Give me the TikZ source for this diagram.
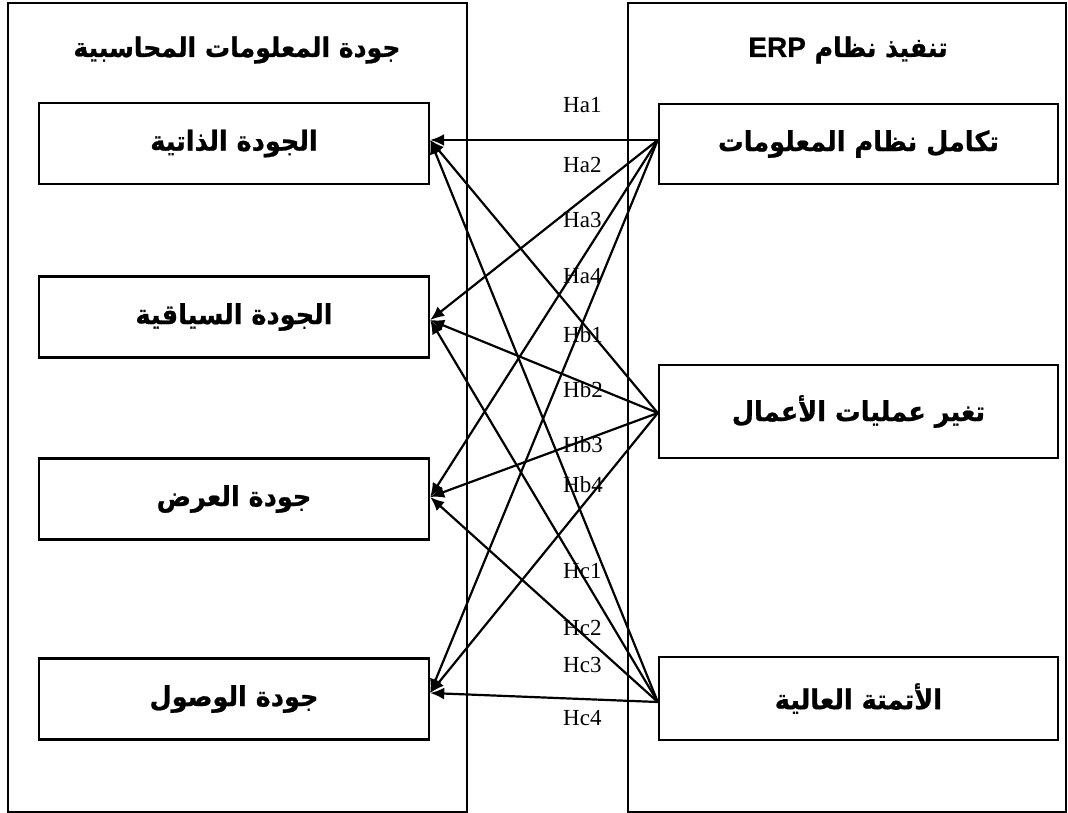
\documentclass[tikz,border=0pt]{standalone}
\usepackage{fontspec}
\setmainfont{Liberation Serif}
\newfontfamily\arabicfont[Script=Arabic, BoldFeatures={FakeBold=0.8, FakeStretch=0.93}]{DejaVu Sans}
\newfontfamily\latinsans[BoldFeatures={FakeBold=0.6}]{Liberation Sans}
\TeXXeTstate=1
\usetikzlibrary{arrows.meta}

\begin{document}
\begin{tikzpicture}[x=1pt,y=-1pt,
  frame/.style={draw, line width=1.8pt, inner sep=0pt, minimum height=809pt},
  heading/.style={font=\arabicfont\bfseries\fontsize{27}{31}\selectfont},
  box/.style={draw, line width=2.4pt, inner sep=0pt,
    font=\arabicfont\bfseries\fontsize{27.5}{31}\selectfont},
  lbox/.style={box, minimum width=390pt, minimum height=81pt},
  rbox/.style={box, minimum width=399pt},
  hyp/.style={font=\fontsize{23}{26}\selectfont, anchor=base west, inner sep=0pt},
  conn/.style={line width=2.2pt, -{Latex[length=14pt,width=12pt]}}
]
\useasboundingbox (0,0) rectangle (1068,813);

% the two framing panels
\node[frame, minimum width=459pt] (L) at (237.5,407.5) {};
\node[frame, minimum width=438pt] (R) at (847,407.5) {};

% panel headings
\node[heading] (hl) at (237,50) {\beginR جودة المعلومات المحاسبية\endR};
\node[heading] (hr) at (848,50) {\beginR تنفيذ نظام \beginL{\latinsans\bfseries\fontsize{28}{31}\selectfont ERP}\endL\endR};

% dependent variables (left)
\node[lbox] (l1) at (234,143.5) {\beginR الجودة الذاتية\endR};
\node[lbox] (l2) at (234,317) {\beginR الجودة السياقية\endR};
\node[lbox] (l3) at (234,499) {\beginR جودة العرض\endR};
\node[lbox] (l4) at (234,699) {\beginR جودة الوصول\endR};

% independent variables (right)
\node[rbox, minimum height=80pt] (r1) at (858.5,144) {\beginR تكامل نظام المعلومات\endR};
\node[rbox, minimum height=93pt] (r2) at (858.5,411.5) {\beginR تغير عمليات الأعمال\endR};
\node[rbox, minimum height=83pt] (r3) at (858.5,698.5) {\beginR الأتمتة العالية\endR};

% attachment points of the connectors
\coordinate (t1) at ([yshift=3.5pt]l1.east);
\coordinate (t2) at ([yshift=-3pt]l2.east);
\coordinate (t3) at ([yshift=2pt]l3.east);
\coordinate (t4) at ([yshift=6pt]l4.east);
\coordinate (s1) at ([yshift=4pt]r1.west);
\coordinate (s2) at ([yshift=-1.5pt]r2.west);
\coordinate (s3) at ([yshift=-3.5pt]r3.west);

% hypothesis labels
\node[hyp] (ha1) at (563,113) {Ha1};
\node[hyp] (ha2) at (563,173) {Ha2};
\node[hyp] (ha3) at (563,228) {Ha3};
\node[hyp] (ha4) at (563,283) {Ha4};
\node[hyp] (hb1) at (563,342) {Hb1};
\node[hyp] (hb2) at (563,397) {Hb2};
\node[hyp] (hb3) at (563,452) {Hb3};
\node[hyp] (hb4) at (563,492) {Hb4};
\node[hyp] (hc1) at (563,578) {Hc1};
\node[hyp] (hc2) at (563,635) {Hc2};
\node[hyp] (hc3) at (563,672) {Hc3};
\node[hyp] (hc4) at (563,725) {Hc4};

% hypothesised relations
\foreach \s in {s1,s2,s3}
  \foreach \t in {t1,t2,t3,t4}
    \draw[conn] (\s) -- (\t);
\end{tikzpicture}
\end{document}
